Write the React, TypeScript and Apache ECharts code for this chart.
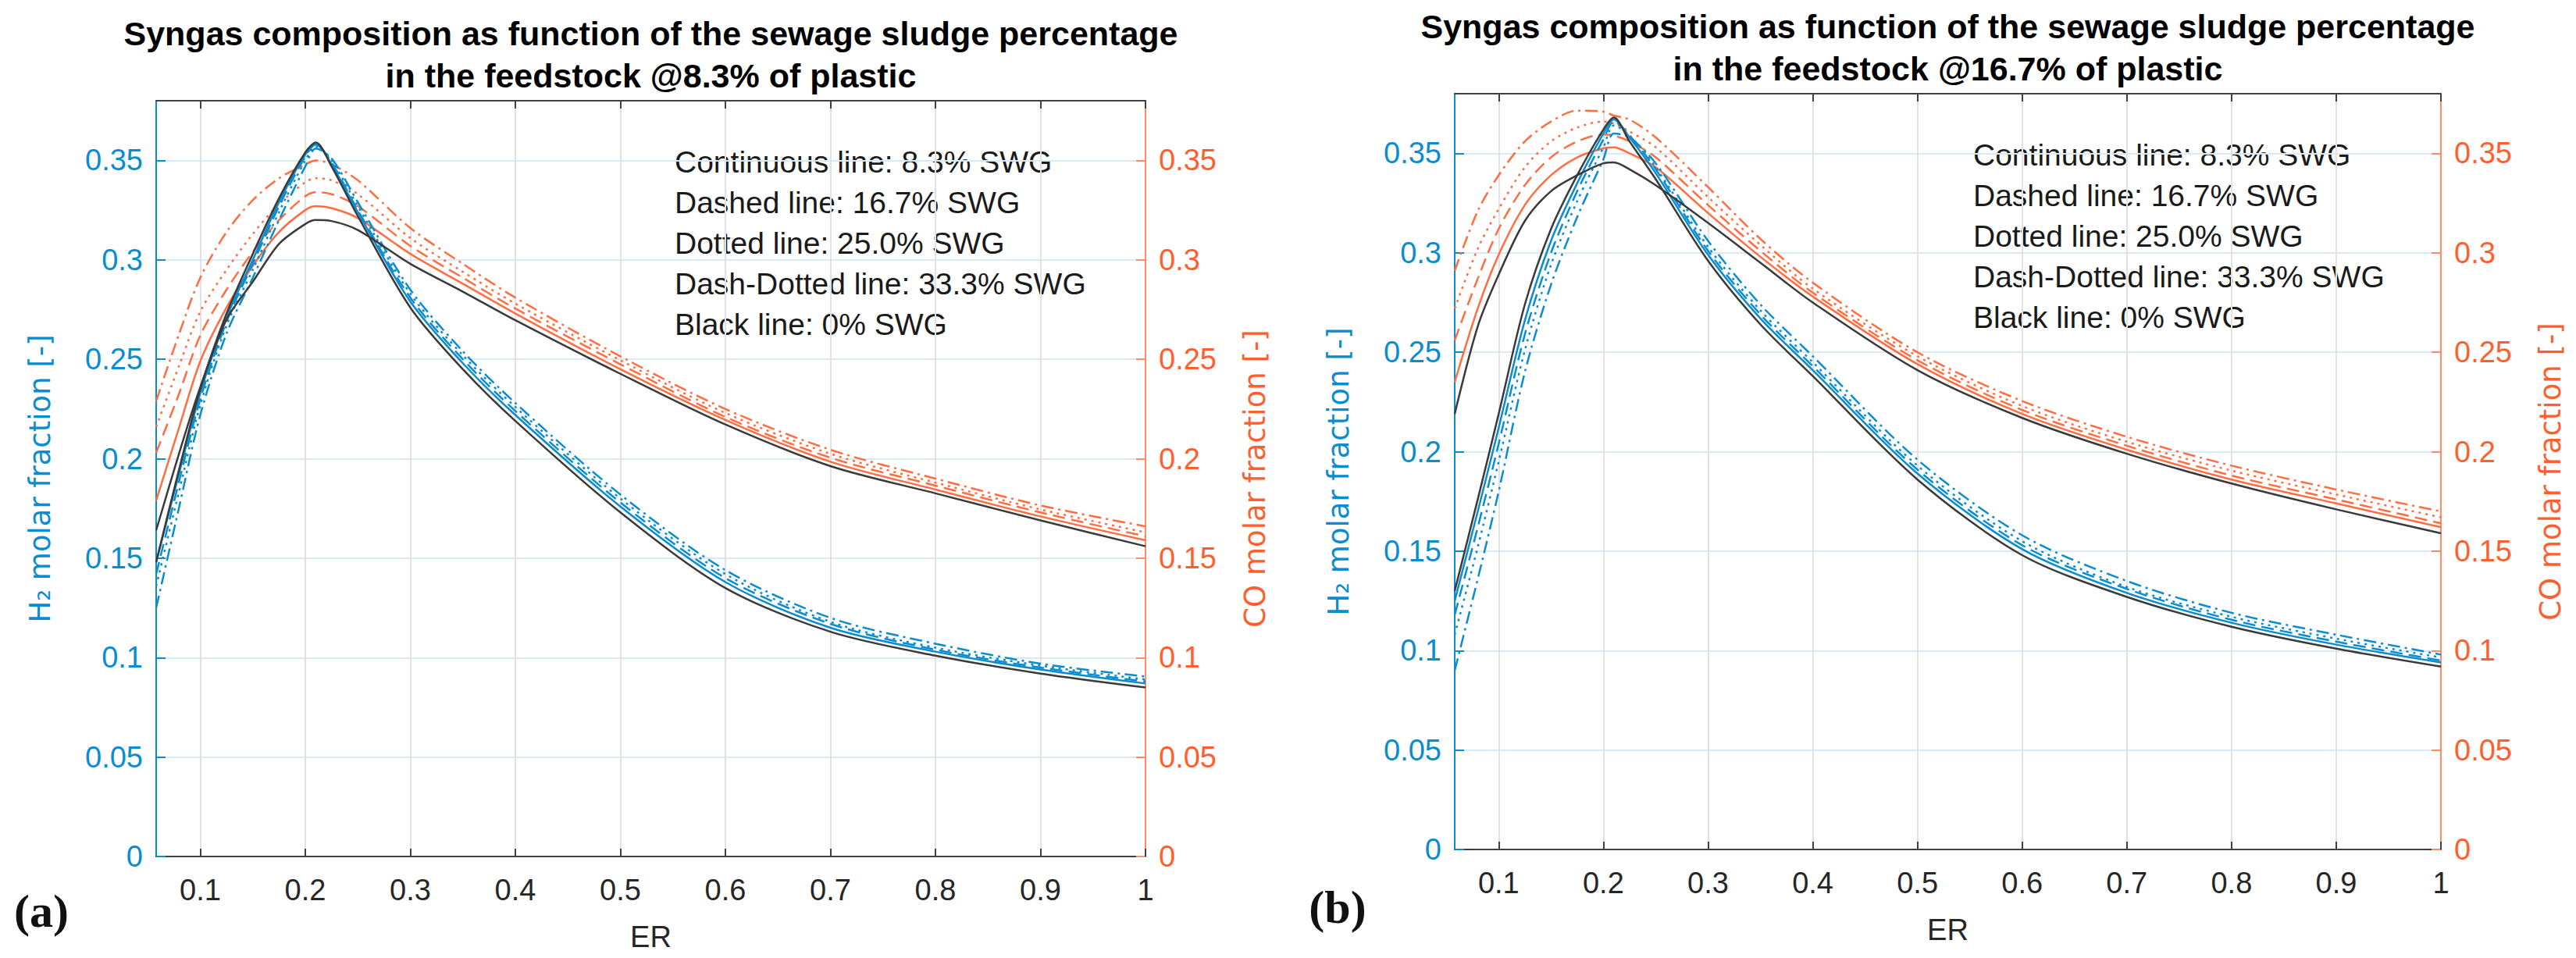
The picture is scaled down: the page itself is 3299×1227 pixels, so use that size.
import React, { useEffect, useRef } from "react";
import * as echarts from "echarts";

// ER values shared by every curve
const er = [0.058, 0.08, 0.1, 0.125, 0.15, 0.175, 0.2, 0.21, 0.225, 0.25, 0.3, 0.35, 0.4, 0.5, 0.6, 0.7, 0.8, 0.9, 1.0];
const erTicks = [0.1, 0.2, 0.3, 0.4, 0.5, 0.6, 0.7, 0.8, 0.9, 1];
const yTicks = [0, 0.05, 0.1, 0.15, 0.2, 0.25, 0.3, 0.35];

// (a) @8.3% of plastic - H2
const h2A_0 = [0.148, 0.195, 0.235, 0.273, 0.303, 0.331, 0.354, 0.359, 0.347, 0.322, 0.276, 0.245, 0.219, 0.173, 0.135, 0.113, 0.101, 0.092, 0.085];
const h2A_83 = [0.148, 0.193, 0.233, 0.271, 0.300, 0.329, 0.353, 0.358, 0.348, 0.324, 0.279, 0.248, 0.222, 0.176, 0.138, 0.115, 0.103, 0.094, 0.087];
const h2A_167 = [0.142, 0.189, 0.230, 0.269, 0.298, 0.327, 0.352, 0.358, 0.349, 0.325, 0.281, 0.250, 0.224, 0.178, 0.140, 0.117, 0.104, 0.095, 0.088];
const h2A_250 = [0.136, 0.184, 0.227, 0.267, 0.295, 0.324, 0.350, 0.357, 0.350, 0.327, 0.283, 0.252, 0.226, 0.180, 0.142, 0.118, 0.105, 0.096, 0.089];
const h2A_333 = [0.125, 0.176, 0.222, 0.263, 0.291, 0.320, 0.347, 0.356, 0.351, 0.329, 0.285, 0.254, 0.228, 0.182, 0.144, 0.120, 0.107, 0.097, 0.0905];

// (a) @8.3% of plastic - CO
const coA_0 = [0.164, 0.203, 0.236, 0.270, 0.289, 0.308, 0.318, 0.320, 0.3195, 0.315, 0.298, 0.284, 0.2696, 0.2427, 0.2172, 0.1963, 0.1826, 0.169, 0.156];
const coA_83 = [0.179, 0.216, 0.249, 0.276, 0.297, 0.314, 0.325, 0.327, 0.326, 0.321, 0.303, 0.288, 0.273, 0.245, 0.2195, 0.1985, 0.1845, 0.171, 0.159];
const coA_167 = [0.203, 0.233, 0.262, 0.285, 0.304, 0.320, 0.332, 0.334, 0.333, 0.327, 0.307, 0.291, 0.2755, 0.2475, 0.221, 0.2005, 0.1865, 0.173, 0.161];
const coA_250 = [0.216, 0.247, 0.274, 0.295, 0.313, 0.328, 0.339, 0.341, 0.340, 0.333, 0.311, 0.294, 0.278, 0.2495, 0.223, 0.2025, 0.188, 0.1745, 0.163];
const coA_333 = [0.229, 0.263, 0.291, 0.314, 0.330, 0.341, 0.348, 0.350, 0.348, 0.340, 0.316, 0.298, 0.281, 0.2515, 0.225, 0.2045, 0.190, 0.1765, 0.166];

// (b) @16.7% of plastic - H2
const h2B_0 = [0.130, 0.176, 0.219, 0.274, 0.312, 0.339, 0.362, 0.368, 0.356, 0.337, 0.296, 0.264, 0.238, 0.186, 0.148, 0.127, 0.112, 0.101, 0.092];
const h2B_83 = [0.125, 0.170, 0.212, 0.266, 0.306, 0.335, 0.360, 0.367, 0.358, 0.340, 0.299, 0.267, 0.241, 0.189, 0.151, 0.129, 0.114, 0.103, 0.094];
const h2B_167 = [0.118, 0.162, 0.204, 0.259, 0.300, 0.331, 0.357, 0.366, 0.359, 0.342, 0.301, 0.269, 0.243, 0.191, 0.153, 0.131, 0.1155, 0.1045, 0.095];
const h2B_250 = [0.108, 0.152, 0.195, 0.251, 0.294, 0.326, 0.353, 0.364, 0.359, 0.343, 0.303, 0.271, 0.245, 0.193, 0.155, 0.132, 0.117, 0.106, 0.0965];
const h2B_333 = [0.090, 0.136, 0.180, 0.240, 0.284, 0.318, 0.347, 0.360, 0.358, 0.345, 0.306, 0.274, 0.248, 0.196, 0.158, 0.135, 0.119, 0.108, 0.098];

// (b) @16.7% of plastic - CO
const coB_0 = [0.219, 0.263, 0.289, 0.316, 0.331, 0.339, 0.345, 0.3455, 0.342, 0.334, 0.315, 0.295, 0.275, 0.241, 0.217, 0.199, 0.184, 0.171, 0.159];
const coB_83 = [0.235, 0.272, 0.299, 0.324, 0.339, 0.348, 0.3525, 0.353, 0.350, 0.343, 0.320, 0.298, 0.278, 0.244, 0.219, 0.201, 0.186, 0.174, 0.162];
const coB_167 = [0.256, 0.287, 0.312, 0.334, 0.348, 0.356, 0.3595, 0.359, 0.356, 0.348, 0.324, 0.301, 0.280, 0.246, 0.221, 0.203, 0.188, 0.176, 0.164];
const coB_250 = [0.272, 0.302, 0.322, 0.343, 0.356, 0.363, 0.366, 0.365, 0.361, 0.353, 0.328, 0.304, 0.282, 0.248, 0.223, 0.205, 0.1905, 0.1785, 0.167];
const coB_333 = [0.291, 0.321, 0.339, 0.356, 0.366, 0.3715, 0.371, 0.369, 0.367, 0.358, 0.333, 0.307, 0.285, 0.250, 0.2255, 0.2075, 0.193, 0.181, 0.170];

const legendLines = [
  "Continuous line: 8.3% SWG",
  "Dashed line: 16.7% SWG",
  "Dotted line: 25.0% SWG",
  "Dash-Dotted line: 33.3% SWG",
  "Black line: 0% SWG",
];

const BLUE = "#0a8cd0";
const ORANGE = "#ff5f2e";
const ORANGE_LINE = "#ff6d40";
const BLACK = "#3a3a3a";
const SANS = "Liberation Sans, Arial, sans-serif";

const dash: Record<string, any> = {
  solid: "solid",
  dashed: [16, 8],
  dotted: [3, 6],
  dashDot: [16, 6, 3, 6],
};

const fmt = (v: number) => String(+v.toFixed(2));

const panels = [
  {
    grid: { left: 200, top: 129, width: 1267, height: 968 },
    title: "Syngas composition as function of the sewage sludge percentage\nin the feedstock @8.3% of plastic",
    h2: [h2A_83, h2A_167, h2A_250, h2A_333, h2A_0],
    co: [coA_83, coA_167, coA_250, coA_333, coA_0],
    tag: "(a)",
    tagPos: [53, 1167],
  },
  {
    grid: { left: 1863, top: 120, width: 1263, height: 968 },
    title: "Syngas composition as function of the sewage sludge percentage\nin the feedstock @16.7% of plastic",
    h2: [h2B_83, h2B_167, h2B_250, h2B_333, h2B_0],
    co: [coB_83, coB_167, coB_250, coB_333, coB_0],
    tag: "(b)",
    tagPos: [1713, 1162],
  },
];

const styleOrder = ["solid", "dashed", "dotted", "dashDot", "solid"];

function buildOption() {
  const grid: any[] = [];
  const xAxis: any[] = [];
  const yAxis: any[] = [];
  const series: any[] = [];
  const graphic: any[] = [];

  panels.forEach((p, g) => {
    grid.push({ ...p.grid, containLabel: false });

    xAxis.push({
      type: "value",
      gridIndex: g,
      position: "bottom",
      min: 0.058,
      max: 1,
      name: "ER",
      nameLocation: "middle",
      nameGap: 84,
      nameTextStyle: { color: "#262626", fontSize: 38, fontFamily: SANS },
      axisLine: { show: true, onZero: false, lineStyle: { color: "#404040", width: 2 } },
      axisTick: { show: true, inside: true, length: 10, customValues: erTicks, lineStyle: { color: "#404040", width: 2 } },
      axisLabel: { customValues: erTicks, color: "#262626", fontSize: 38, margin: 24, fontFamily: SANS, formatter: fmt },
      splitLine: { show: true, lineStyle: { color: "#e2e2e2", width: 2 } },
    });
    xAxis.push({
      type: "value",
      gridIndex: g,
      position: "top",
      min: 0.058,
      max: 1,
      axisLine: { show: true, onZero: false, lineStyle: { color: "#404040", width: 2 } },
      axisTick: { show: true, inside: true, length: 10, customValues: erTicks, lineStyle: { color: "#404040", width: 2 } },
      axisLabel: { show: false },
      splitLine: { show: false },
    });

    const yBase = (side: string, color: string, lineColor: string, name: string, gap: number) => ({
      type: "value",
      gridIndex: g,
      position: side,
      min: 0,
      max: 0.38,
      name,
      nameLocation: "middle",
      nameGap: gap,
      nameRotate: 90,
      nameTextStyle: { color, fontSize: 37, fontFamily: "DejaVu Sans, sans-serif" },
      axisLine: { show: true, onZero: false, lineStyle: { color: lineColor, width: 2 } },
      axisTick: { show: true, inside: true, length: 12, customValues: yTicks, lineStyle: { color: lineColor, width: 2 } },
      axisLabel: { customValues: yTicks, color, fontSize: 38, margin: 17, fontFamily: SANS, formatter: fmt },
      splitLine: { show: side === "left", lineStyle: { color: "#d9eaf6", width: 2 } },
    });
    yAxis.push(yBase("left", BLUE, BLUE, "H₂ molar fraction [-]", 130));
    yAxis.push(yBase("right", ORANGE, "#ff8a66", "CO molar fraction [-]", 122));

    const addLines = (arrs: number[][], yIdx: number, color: string) => {
      arrs.forEach((arr, i) => {
        const isBlack = i === 4;
        series.push({
          type: "line",
          xAxisIndex: g * 2,
          yAxisIndex: yIdx,
          data: er.map((x, k) => [x, arr[k]]),
          showSymbol: false,
          symbol: "none",
          smooth: 0.3,
          z: isBlack ? 4 : 3,
          lineStyle: {
            color: isBlack ? BLACK : color,
            width: 2.5,
            type: dash[styleOrder[i]],
          },
        });
      });
    };
    addLines(p.co, g * 2 + 1, ORANGE_LINE);
    addLines(p.h2, g * 2, BLUE);

    const cx = p.grid.left + p.grid.width / 2;
    graphic.push({
      type: "text",
      x: cx,
      y: p.grid.top - 113,
      style: {
        text: p.title,
        align: "center",
        verticalAlign: "top",
        fontSize: 43,
        fontWeight: "bold",
        lineHeight: 54,
        fontFamily: SANS,
        fill: "#000",
      },
    });
    graphic.push({
      type: "text",
      x: p.grid.left + 664,
      y: p.grid.top + 52,
      style: {
        text: legendLines.join("\n"),
        align: "left",
        verticalAlign: "top",
        fontSize: 39,
        lineHeight: 52,
        fontFamily: SANS,
        fill: "#1a1a1a",
      },
    });
    graphic.push({
      type: "text",
      x: p.tagPos[0],
      y: p.tagPos[1],
      style: {
        text: p.tag,
        align: "center",
        verticalAlign: "middle",
        fontSize: 60,
        fontWeight: "bold",
        fontFamily: "Liberation Serif, serif",
        fill: "#111",
      },
    });
  });

  return {
    animation: false,
    backgroundColor: "#fff",
    textStyle: { fontFamily: SANS },
    grid,
    xAxis,
    yAxis,
    series,
    graphic,
  };
}

export default function App() {
  const chartRef = useRef<HTMLDivElement>(null);

  useEffect(() => {
    if (!chartRef.current) return;
    const chart = echarts.init(chartRef.current, undefined, { renderer: "svg" });
    chart.setOption(buildOption());

    const handleResize = () => chart.resize();
    window.addEventListener("resize", handleResize);
    return () => {
      window.removeEventListener("resize", handleResize);
      chart.dispose();
    };
  }, []);

  return (
    <div
      ref={chartRef}
      style={{ position: "fixed", left: 0, top: 0, width: 3299, height: 1227, background: "#fff" }}
    />
  );
}
